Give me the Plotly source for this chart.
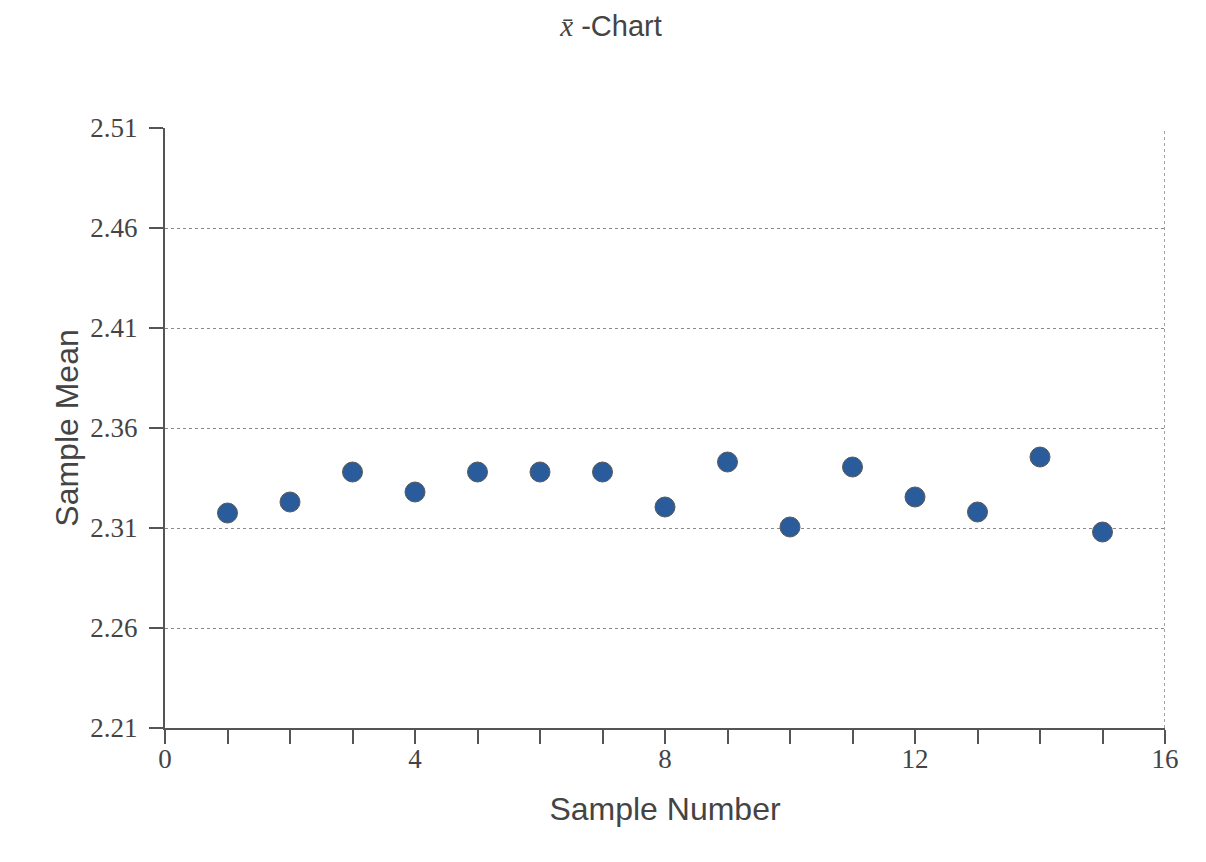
import plotly.graph_objects as go

# sample means
sample_number = list(range(1, 16))
sample_mean = [2.3175, 2.323, 2.338, 2.328, 2.338, 2.338, 2.338, 2.3205,
               2.343, 2.3105, 2.3405, 2.3255, 2.318, 2.3455, 2.308]

axis_color = "#555555"
serif = "Liberation Serif, Times New Roman, serif"
sans = "Liberation Sans, Arial, sans-serif"

fig = go.Figure()
fig.add_trace(go.Scatter(
    x=sample_number, y=sample_mean, mode="markers",
    marker=dict(size=20, color="#2a5b9b", line=dict(color="#5a5a5a", width=1)),
    showlegend=False,
))

# dotted right border of the plot area
fig.add_shape(type="line", xref="x", yref="paper", x0=16, x1=16, y0=0, y1=1,
              line=dict(color="#707070", width=1.3, dash="dot"))

fig.update_layout(
    width=1206, height=862,
    margin=dict(l=157, r=49, t=120, b=142),
    paper_bgcolor="white", plot_bgcolor="white",
    title=dict(text="<span style='font-family:Liberation Serif'><i>x\u0304</i></span> -Chart",
               x=0.5, xanchor="center", y=0.979, yanchor="middle",
               font=dict(family=sans, size=29, color="#444444")),
)
fig.update_xaxes(
    range=[0, 16], tick0=0, dtick=4, showgrid=False, zeroline=False,
    showline=True, linecolor=axis_color, linewidth=2,
    ticks="outside", ticklen=14, tickwidth=2, tickcolor=axis_color,
    minor=dict(dtick=1, ticks="outside", ticklen=14, tickwidth=2, tickcolor=axis_color, showgrid=False),
    tickfont=dict(family=serif, size=27, color="#444444"), ticklabelstandoff=-8,
    title=dict(text="Sample Number", font=dict(family=sans, size=32, color="#444444"), standoff=24),
)
fig.update_yaxes(
    range=[2.21, 2.51], tick0=2.21, dtick=0.05, tickformat=".2f", zeroline=False,
    showline=True, linecolor=axis_color, linewidth=2,
    ticks="outside", ticklen=14, tickwidth=2, tickcolor=axis_color,
    showgrid=True, gridcolor="#8a8a8a", gridwidth=1, griddash="dot",
    tickfont=dict(family=serif, size=27, color="#444444"), ticklabelstandoff=6,
    title=dict(text="Sample Mean", font=dict(family=sans, size=32, color="#444444"), standoff=2),
)

fig.write_html("out.html")
